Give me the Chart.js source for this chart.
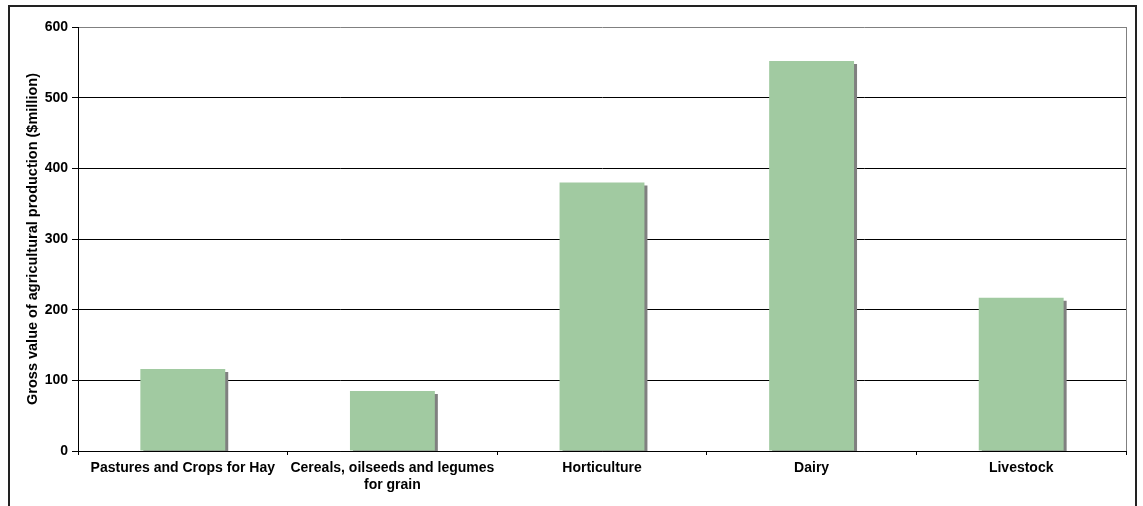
<!DOCTYPE html>
<html>
<head>
<meta charset="utf-8">
<style>
  html, body { margin: 0; padding: 0; background: #fff; }
  #wrap { width: 1143px; height: 506px; position: relative; }
</style>
<script src="https://cdn.jsdelivr.net/npm/chart.js@4/dist/chart.umd.min.js"></script>
</head>
<body>
<div id="wrap"><canvas id="chart" width="1143" height="506"></canvas></div>
<script>
// Gross value of agricultural production by commodity group ($million)
const categories = [
  'Pastures and Crops for Hay',
  ['Cereals, oilseeds and legumes', 'for grain'],
  'Horticulture',
  'Dairy',
  'Livestock'
];
const grossValue = [116, 85, 380, 552, 217];
const yTicks = [0, 100, 200, 300, 400, 500, 600];

const FONT = '"Liberation Sans", Arial, sans-serif';

// Outer frame and the grey right edge of the plot area
const framePlugin = {
  id: 'frame',
  beforeDraw(chart) {
    const ctx = chart.ctx;
    ctx.save();
    ctx.strokeStyle = '#222';
    ctx.lineWidth = 2;
    ctx.strokeRect(9, 6, 1127, 600);
    ctx.restore();
  },
  afterDraw(chart) {
    const { ctx, chartArea } = chart;
    ctx.save();
    ctx.strokeStyle = '#808080';
    ctx.lineWidth = 1;
    ctx.beginPath();
    ctx.moveTo(Math.round(chartArea.right) + 0.5, chartArea.top);
    ctx.lineTo(Math.round(chartArea.right) + 0.5, chartArea.bottom);
    ctx.stroke();
    ctx.restore();
  }
};

// Flat grey drop shadow behind each bar
const shadowPlugin = {
  id: 'barShadow',
  beforeDatasetsDraw(chart) {
    const ctx = chart.ctx;
    ctx.save();
    ctx.shadowColor = '#808080';
    ctx.shadowBlur = 0;
    ctx.shadowOffsetX = 3;
    ctx.shadowOffsetY = 3;
  },
  afterDatasetsDraw(chart) {
    chart.ctx.restore();
  }
};

new Chart(document.getElementById('chart'), {
  type: 'bar',
  data: {
    labels: categories,
    datasets: [{
      data: grossValue,
      backgroundColor: '#A1CAA1',
      borderWidth: 0,
      categoryPercentage: 1,
      barPercentage: 0.405,
      clip: 0
    }]
  },
  options: {
    responsive: false,
    animation: false,
    devicePixelRatio: 1,
    layout: { padding: { top: 27, right: 17, left: 0, bottom: 0 } },
    plugins: {
      legend: { display: false },
      tooltip: { enabled: false }
    },
    scales: {
      x: {
        afterFit(scale) { scale.height = 55; },
        grid: {
          display: true,
          drawOnChartArea: false,
          drawTicks: true,
          tickLength: 4,
          tickColor: '#000',
          offset: true
        },
        border: { display: true, color: '#000', width: 1 },
        ticks: {
          color: '#000',
          font: { family: FONT, size: 14, weight: 'bold' },
          padding: 5,
          maxRotation: 0,
          autoSkip: false
        }
      },
      y: {
        min: 0,
        max: 600,
        afterFit(scale) { scale.width = 78; },
        afterBuildTicks(scale) { scale.ticks = yTicks.map(v => ({ value: v })); },
        grid: {
          color: ctx => (ctx.tick && ctx.tick.value === 600 ? '#808080' : '#000'),
          lineWidth: 1,
          drawTicks: true,
          tickLength: 6,
          tickColor: '#000'
        },
        border: { display: true, color: '#000', width: 1 },
        ticks: {
          color: '#000',
          font: { family: FONT, size: 14, weight: 'bold' },
          padding: 4
        },
        title: {
          display: true,
          text: 'Gross value of agricultural production ($million)',
          color: '#000',
          font: { family: FONT, size: 14.5, weight: 'bold' },
          padding: { top: 24, bottom: 0 }
        }
      }
    }
  },
  plugins: [framePlugin, shadowPlugin]
});
</script>
</body>
</html>
